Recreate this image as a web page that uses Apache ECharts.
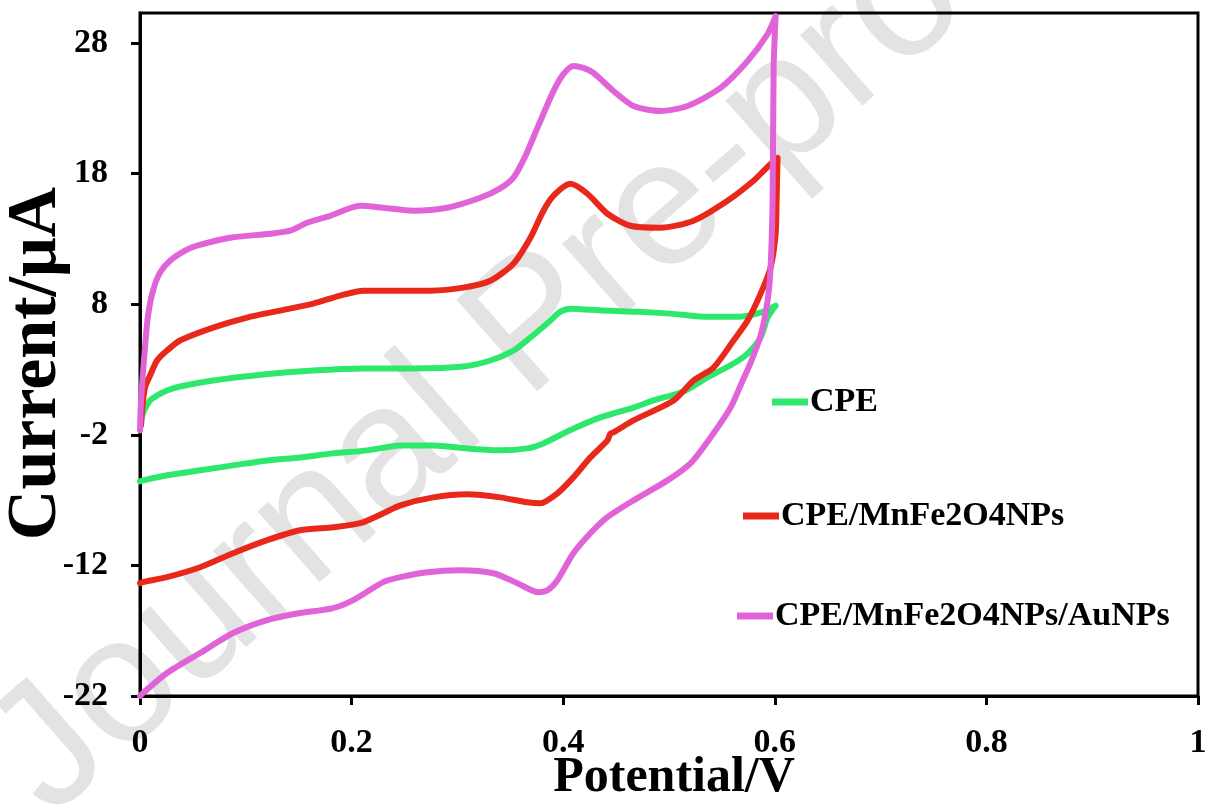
<!DOCTYPE html>
<html>
<head>
<meta charset="utf-8">
<script src="https://cdn.jsdelivr.net/npm/echarts@6/dist/echarts.min.js"></script>
<style>
  html, body { margin: 0; padding: 0; background: #ffffff; }
  #chart { width: 1210px; height: 812px; }
</style>
</head>
<body>
<div id="chart"></div>
<script>
// Cyclic voltammograms: potential (V) vs current (µA), forward then reverse sweep.
const seriesNames = ['CPE', 'CPE/MnFe2O4NPs', 'CPE/MnFe2O4NPs/AuNPs'];
const seriesColors = ['#2ee86e', '#e8281a', '#e064d8'];

const cpeV = [0.001, 0.0028, 0.0095, 0.0161, 0.0255, 0.0378, 0.0691, 0.1164, 0.1637, 0.2110, 0.2583, 0.3056, 0.3311, 0.3529, 0.3690, 0.3879, 0.3974, 0.4068, 0.4380, 0.4702, 0.5014, 0.5326, 0.5648, 0.5866, 0.6008,
  0.5932, 0.5866, 0.5743, 0.5610, 0.5364, 0.5137, 0.4853, 0.4664, 0.4352, 0.4040, 0.3813, 0.3661, 0.3406, 0.3094, 0.2772, 0.2460, 0.2148, 0.1826, 0.1514, 0.1202, 0.0880, 0.0568, 0.0255, 0.0028, 0];
const cpeI = [-1.05, -0.36, 0.63, 1.01, 1.39, 1.70, 2.16, 2.62, 2.92, 3.08, 3.08, 3.23, 3.69, 4.45, 5.45, 6.75, 7.43, 7.66, 7.51, 7.43, 7.28, 7.05, 7.05, 7.36, 7.89,
  6.98, 5.45, 4.22, 3.46, 2.39, 1.32, 0.63, 0.09, -0.67, -1.74, -2.66, -3.04, -3.19, -3.04, -2.81, -2.81, -3.19, -3.42, -3.73, -3.96, -4.34, -4.72, -5.10, -5.49, -5.56];

const mnfeV = [0.001, 0.0019, 0.0047, 0.0095, 0.0161, 0.0255, 0.0378, 0.0691, 0.1012, 0.1325, 0.1637, 0.1892, 0.2110, 0.2431, 0.2744, 0.3056, 0.3311, 0.3529, 0.3690, 0.3813, 0.3907, 0.4068, 0.4229, 0.4418, 0.4636, 0.4919, 0.5232, 0.5553, 0.5799, 0.5913, 0.6026,
  0.6017, 0.6008, 0.5960, 0.5866, 0.5743, 0.5610, 0.5421, 0.5232, 0.5043, 0.4664, 0.4475, 0.4446, 0.4418, 0.4257, 0.4096, 0.3945, 0.3784, 0.3661, 0.3406, 0.3094, 0.2772, 0.2460, 0.2299, 0.2081, 0.1826, 0.1514, 0.1202, 0.0880, 0.0568, 0.0255, 0.0028, 0];
const mnfeI = [-1.28, -0.13, 1.62, 2.54, 3.69, 4.45, 5.22, 6.21, 6.98, 7.51, 8.05, 8.66, 9.04, 9.04, 9.04, 9.27, 9.80, 11.10, 13.09, 15.16, 16.30, 17.22, 16.46, 14.93, 14.01, 13.86, 14.39, 15.92, 17.45, 18.37, 19.21,
  15.92, 13.40, 10.80, 8.81, 6.75, 5.22, 3.15, 2.16, 0.63, -0.90, -1.82, -1.90, -2.43, -3.73, -5.26, -6.48, -7.24, -7.17, -6.79, -6.56, -6.79, -7.40, -8.01, -8.77, -9.08, -9.31, -10.07, -11.07, -12.14, -12.90, -13.28, -13.36];

const aunpV = [0, 0.001, 0.0047, 0.0076, 0.0123, 0.0189, 0.0284, 0.0426, 0.0539, 0.0851, 0.1230, 0.1419, 0.1580, 0.1798, 0.2081, 0.2299, 0.2583, 0.2904, 0.3217, 0.3400, 0.3530, 0.3640, 0.3756, 0.3907, 0.4000, 0.4096, 0.4190, 0.4286, 0.4475, 0.4664, 0.4919, 0.5175, 0.5487, 0.5743, 0.5932, 0.6008,
  0.5989, 0.5979, 0.5960, 0.5932, 0.5866, 0.5771, 0.5676, 0.5582, 0.5393, 0.5203, 0.4986, 0.4664, 0.4418, 0.4257, 0.4096, 0.3945, 0.3851, 0.3765, 0.3567, 0.3340, 0.3027, 0.2715, 0.2460, 0.2299, 0.2015, 0.1826, 0.1514, 0.1202, 0.0880, 0.0568, 0.0255, 0.0028, 0];
const aunpI = [-1.66, 0.63, 4.68, 7.13, 9.04, 10.42, 11.33, 12.10, 12.48, 13.09, 13.40, 13.63, 14.24, 14.77, 15.54, 15.39, 15.16, 15.39, 16.15, 16.85, 17.70, 19.30, 21.50, 24.30, 25.60, 26.24, 26.10, 25.71, 24.33, 23.18, 22.80, 23.18, 24.56, 26.62, 28.69, 30.06,
  26.09, 15.92, 10.80, 8.28, 5.60, 3.50, 1.78, 0.09, -2.20, -4.19, -5.49, -7.02, -8.31, -9.54, -11.07, -13.13, -13.90, -14.05, -13.36, -12.60, -12.37, -12.52, -12.90, -13.28, -14.66, -15.27, -15.65, -16.19, -17.18, -18.71, -20.24, -21.77, -22.0];

const xTicks = [0, 0.2, 0.4, 0.6, 0.8, 1];
const yTicks = [-22, -12, -2, 8, 18, 28];

const pair = (v, i) => v.map((x, k) => [x, i[k]]);
const seriesData = [pair(cpeV, cpeI), pair(mnfeV, mnfeI), pair(aunpV, aunpI)];

const serif = '"Liberation Serif", "Times New Roman", serif';

const chart = echarts.init(document.getElementById('chart'), null, { renderer: 'canvas' });

const legendSpots = [
  { left: 772, top: 385 },
  { left: 743, top: 499 },
  { left: 737, top: 599 }
];

const option = {
  backgroundColor: '#ffffff',
  animation: false,
  graphic: [{
    type: 'text',
    x: 18,
    y: 782,
    rotation: 41.3 * Math.PI / 180,
    z: -10,
    silent: true,
    style: {
      text: 'Journal Pre-proof',
      font: '178px "Liberation Sans", Arial, sans-serif',
      fill: '#e3e3e3',
      textAlign: 'left',
      textVerticalAlign: 'middle'
    }
  }],
  grid: {
    left: 140, right: 12, top: 13, bottom: 116,
    outerBoundsMode: 'none',
    containLabel: false,
    show: true, borderColor: '#000', borderWidth: 3, backgroundColor: 'transparent'
  },
  legend: seriesNames.map((name, k) => ({
    data: [name],
    left: legendSpots[k].left,
    top: legendSpots[k].top,
    padding: 0,
    icon: 'rect',
    itemWidth: 36,
    itemHeight: 7,
    selectedMode: false,
    textStyle: { fontFamily: serif, fontWeight: 'bold', fontSize: 34, color: '#000', padding: [0, 0, 0, -3] }
  })),
  xAxis: {
    type: 'value',
    min: 0, max: 1, interval: 0.2,
    name: 'Potential/V',
    nameLocation: 'middle',
    nameGap: 57,
    nameMoveOverlap: false,
    nameTextStyle: { fontFamily: serif, fontWeight: 'bold', fontSize: 50, color: '#000', padding: [0, 0, 0, 10] },
    axisLine: { show: true, onZero: false, lineStyle: { color: '#000', width: 3 } },
    axisTick: { show: true, inside: false, length: 9, lineStyle: { color: '#000', width: 3 }, customValues: xTicks },
    axisLabel: { fontFamily: serif, fontWeight: 'bold', fontSize: 34, color: '#000', margin: 30, customValues: xTicks,
      formatter: v => String(+v.toFixed(1)) },
    splitLine: { show: false }
  },
  yAxis: {
    type: 'value',
    min: -22, max: 30.3, interval: 10,
    name: 'Current/μA',
    nameLocation: 'middle',
    nameGap: 68,
    nameMoveOverlap: false,
    nameTextStyle: { fontFamily: serif, fontWeight: 'bold', fontSize: 70, color: '#000', padding: [0, 18, 0, 0] },
    axisLine: { show: true, onZero: false, lineStyle: { color: '#000', width: 3 } },
    axisTick: { show: true, inside: false, length: 9, lineStyle: { color: '#000', width: 3 }, customValues: yTicks },
    axisLabel: { fontFamily: serif, fontWeight: 'bold', fontSize: 34, color: '#000', margin: 32, customValues: yTicks },
    splitLine: { show: false }
  },
  series: seriesNames.map((name, k) => ({
    name,
    type: 'line',
    data: seriesData[k],
    showSymbol: false,
    symbol: 'none',
    smooth: 0.25,
    color: seriesColors[k],
    lineStyle: { width: 6, color: seriesColors[k], cap: 'round', join: 'round' },
    z: 2 + k
  }))
};

chart.setOption(option);
</script>
</body>
</html>
